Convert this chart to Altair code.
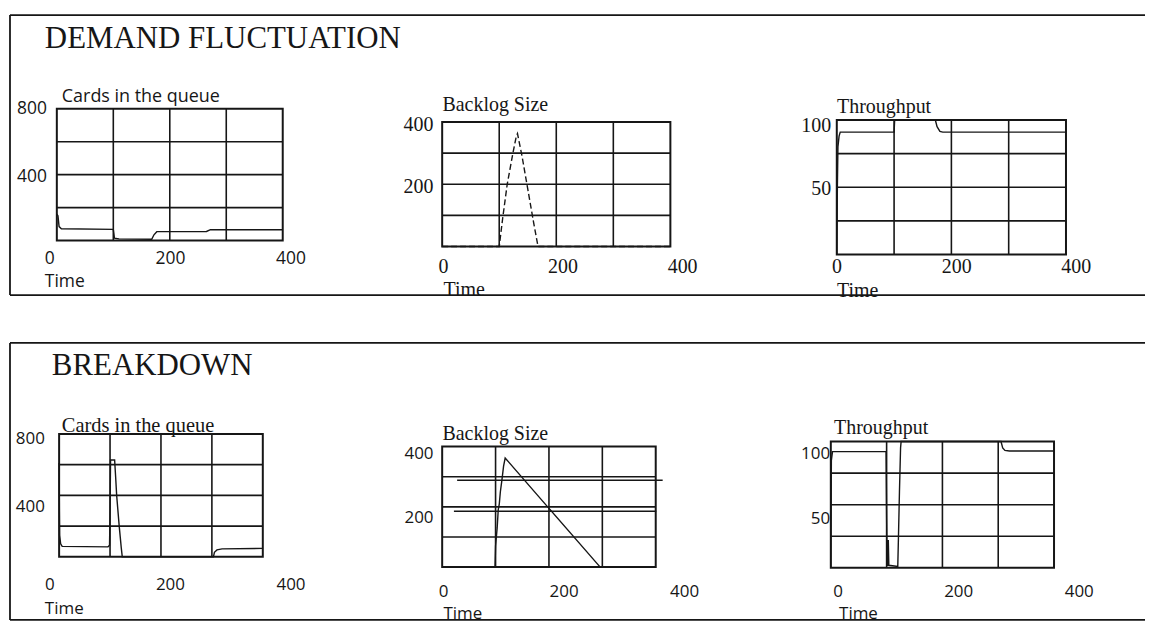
import altair as alt
import pandas as pd

# ---------------- data ----------------
TIME_TICKS = [0, 200, 400]
TIME_GRID = [100, 200, 300]

CARDS_YTICKS = [800, 400]
CARDS_GRID = [200, 400, 600]
BACKLOG_YTICKS = [400, 200]
BACKLOG_GRID = [100, 200, 300]
THR_YTICKS = [100, 50]
THR_GRID = [25, 50, 75]

# DEMAND FLUCTUATION
df_cards_t = [0, 2, 4, 8, 100, 102, 110, 168, 172, 177, 265, 272, 400]
df_cards_v = [160, 150, 85, 72, 68, 15, 10, 8, 35, 54, 55, 66, 66]
df_backlog_t = [0, 100, 106, 114, 124, 130, 132, 140, 150, 160, 168, 400]
df_backlog_v = [0, 0, 90, 200, 300, 355, 363, 290, 185, 80, 0, 0]
df_thr_t = [0, 1, 2, 4, 6, 100, 101, 172, 175, 180, 185, 400]
df_thr_v = [0, 50, 80, 88, 91, 91, 100, 100, 95, 91.5, 91, 91]

# BREAKDOWN
bd_cards_t = [0, 0.5, 1, 3, 6, 96, 99, 100, 101, 109, 111, 113, 118, 122, 124,
              303, 305, 310, 320, 400]
bd_cards_v = [610, 300, 140, 85, 68, 65, 75, 300, 630, 630, 520, 400, 200, 60, 0,
              0, 30, 45, 52, 55]
bd_backlog_t = [0, 99, 100, 103, 105, 107, 109, 112, 115, 118, 200, 296, 400]
bd_backlog_v = [0, 0, 70, 130, 190, 210, 250, 290, 335, 362, 195, 0, 0]
bd_extra_v = [288, 185]
bd_extra_t0 = [28, 22]
bd_extra_t1 = [413, 401]
bd_thr_t = [0, 1, 3, 99, 100, 101, 102, 103, 104, 120, 121, 123, 125, 126,
            305, 308, 312, 320, 400]
bd_thr_v = [0, 85, 92, 92, 40, 2, 2, 22, 2, 1, 20, 60, 95, 100,
            100, 95, 93, 92.5, 92.5]

# ---------------- styling / layout ----------------
INK = "#161616"
SERIF = "Liberation Serif"
SANS = "Open Sans"
X0 = 8  # left of both frames (page px)
ROW1_Y0, ROW1_H = 12, 281
ROW2_Y0, ROW2_H = 341, 278
ROW_W = 1139
FRAME_W = 1.8


def panel(y0, box, ymax, ygrid, yticks, t, v, xlab, xlab_y, ylab_y, ylab_right,
          title, title_pos, time_pos, tick_font, tick_size, title_font, title_size,
          dash=None, extra=None):
    bx0, bx1, by_top, by_bot = box
    xs = alt.Scale(domain=[0, 400], range=[bx0 - X0, bx1 - X0], nice=False, zero=False)
    ys = alt.Scale(domain=[0, ymax], range=[by_bot - y0, by_top - y0], nice=False, zero=False)
    layers = []

    # horizontal grid
    hg = pd.DataFrame({"v": ygrid, "a": [0] * len(ygrid), "b": [400] * len(ygrid)})
    layers.append(alt.Chart(hg).mark_rule(color=INK, strokeWidth=1.6).encode(
        x=alt.X("a:Q", scale=xs, axis=None), x2="b:Q",
        y=alt.Y("v:Q", scale=ys, axis=None)))
    # vertical grid
    vg = pd.DataFrame({"t": TIME_GRID, "a": [0] * 3, "b": [ymax] * 3})
    layers.append(alt.Chart(vg).mark_rule(color=INK, strokeWidth=1.6).encode(
        x=alt.X("t:Q", scale=xs, axis=None),
        y=alt.Y("a:Q", scale=ys, axis=None), y2="b:Q"))
    # extra lines
    if extra is not None:
        ev, et0, et1 = extra
        ed = pd.DataFrame({"v": ev, "a": et0, "b": et1})
        layers.append(alt.Chart(ed).mark_rule(color=INK, strokeWidth=1.5).encode(
            x=alt.X("a:Q", scale=xs, axis=None), x2="b:Q",
            y=alt.Y("v:Q", scale=ys, axis=None)))
    # box
    bd = pd.DataFrame({"a": [0], "b": [400], "c": [0], "d": [ymax]})
    layers.append(alt.Chart(bd).mark_rect(fillOpacity=0, stroke=INK, strokeWidth=2).encode(
        x=alt.X("a:Q", scale=xs, axis=None), x2="b:Q",
        y=alt.Y("c:Q", scale=ys, axis=None), y2="d:Q"))
    # data line
    ld = pd.DataFrame({"t": t, "v": v})
    lk = dict(color=INK, strokeWidth=1.4)
    if dash is not None:
        lk["strokeDash"] = dash
    layers.append(alt.Chart(ld).mark_line(**lk).encode(
        x=alt.X("t:Q", scale=xs, axis=None),
        y=alt.Y("v:Q", scale=ys, axis=None)))

    # x tick labels (their own scale, as printed)
    xl = pd.DataFrame({"v": TIME_TICKS, "lab": [str(k) for k in TIME_TICKS]})
    xls = alt.Scale(domain=[0, 400], range=[xlab[0] - X0, xlab[1] - X0], nice=False, zero=False)
    layers.append(alt.Chart(xl).mark_text(font=tick_font, fontSize=tick_size, color=INK,
                                          align="center", baseline="middle").encode(
        x=alt.X("v:Q", scale=xls, axis=None), y=alt.value(xlab_y - y0), text="lab:N"))
    # y tick labels
    ytop, ymid = ylab_y
    yls = alt.Scale(domain=[0, ymax], range=[2 * ymid - ytop - y0, ytop - y0], nice=False, zero=False)
    yl = pd.DataFrame({"v": yticks, "lab": [str(k) for k in yticks]})
    layers.append(alt.Chart(yl).mark_text(font=tick_font, fontSize=tick_size, color=INK,
                                          align="right", baseline="middle").encode(
        x=alt.value(ylab_right - X0), y=alt.Y("v:Q", scale=yls, axis=None), text="lab:N"))
    one = pd.DataFrame({"k": [0]})
    # panel title
    layers.append(alt.Chart(one).mark_text(font=title_font, fontSize=title_size, color=INK,
                                           align="left", baseline="alphabetic").encode(
        x=alt.value(title_pos[0] - X0), y=alt.value(title_pos[1] - y0), text=alt.value(title)))
    # Time label
    layers.append(alt.Chart(one).mark_text(font=tick_font, fontSize=tick_size, color=INK,
                                           align="left", baseline="middle").encode(
        x=alt.value(time_pos[0] - X0), y=alt.value(time_pos[1] - y0), text=alt.value("Time")))
    return layers


def frame(height):
    # open frame (left, top, bottom); the right side runs off the page
    one = pd.DataFrame({"k": [0]})
    base = alt.Chart(one).mark_rule(color=INK, strokeWidth=FRAME_W)
    return [
        base.encode(x=alt.value(0), x2=alt.value(ROW_W), y=alt.value(0)),
        base.encode(x=alt.value(0), x2=alt.value(ROW_W), y=alt.value(height)),
        base.encode(x=alt.value(0), y=alt.value(0), y2=alt.value(height)),
    ]


def row_title(y0, text, pos):
    one = pd.DataFrame({"k": [0]})
    return alt.Chart(one).mark_text(font=SERIF, fontSize=31, color=INK, align="left",
                                    baseline="alphabetic").encode(
        x=alt.value(pos[0] - X0), y=alt.value(pos[1] - y0), text=alt.value(text))


row1_layers = frame(ROW1_H) + [row_title(ROW1_Y0, "DEMAND FLUCTUATION", (43, 45))]
row1_layers += panel(ROW1_Y0, (55, 281.7, 106, 238.3), 800, CARDS_GRID, CARDS_YTICKS,
                     df_cards_t, df_cards_v, (48, 290), 257, (106, 175), 45,
                     "Cards in the queue", (60, 99), (43, 280), SANS, 17.5, SANS, 18)
row1_layers += panel(ROW1_Y0, (441.7, 670.7, 119.3, 244.3), 400, BACKLOG_GRID, BACKLOG_YTICKS,
                     df_backlog_t, df_backlog_v, (443, 683), 265, (122, 185), 433,
                     "Backlog Size", (442, 108), (443, 288), SERIF, 20, SERIF, 20,
                     dash=[6, 3])
row1_layers += panel(ROW1_Y0, (837.7, 1067.7, 117.3, 252.3), 100, THR_GRID, THR_YTICKS,
                     df_thr_t, df_thr_v, (838, 1078), 265, (123, 187), 832,
                     "Throughput", (838, 110), (838, 289), SERIF, 20, SERIF, 20)

row2_layers = frame(ROW2_H) + [row_title(ROW2_Y0, "BREAKDOWN", (50, 373))]
row2_layers += panel(ROW2_Y0, (57.3, 261.7, 432.3, 555.7), 800, CARDS_GRID, CARDS_YTICKS,
                     bd_cards_t, bd_cards_v, (48, 290), 584, (437, 506), 43,
                     "Cards in the queue", (60, 430), (43, 608), SANS, 17, SERIF, 20.5)
row2_layers += panel(ROW2_Y0, (441.7, 656, 445, 566), 400, BACKLOG_GRID, BACKLOG_YTICKS,
                     bd_backlog_t, bd_backlog_v, (443, 685), 591, (453, 517), 433,
                     "Backlog Size", (442, 438), (443, 613), SANS, 17, SERIF, 20,
                     extra=(bd_extra_v, bd_extra_t0, bd_extra_t1))
row2_layers += panel(ROW2_Y0, (831.7, 1055.7, 440, 566.7), 100, THR_GRID, THR_YTICKS,
                     bd_thr_t, bd_thr_v, (839, 1081), 591, (453, 518), 831,
                     "Throughput", (835, 432), (840, 613), SANS, 17, SERIF, 20)

row1 = alt.layer(*row1_layers).resolve_scale(x="independent", y="independent").properties(
    width=ROW_W, height=ROW1_H)
row2 = alt.layer(*row2_layers).resolve_scale(x="independent", y="independent").properties(
    width=ROW_W, height=ROW2_H)

chart = alt.vconcat(row1, row2, spacing=ROW2_Y0 - (ROW1_Y0 + ROW1_H), bounds="flush").properties(
    padding={"left": 0, "top": ROW1_Y0 - 8, "right": 0, "bottom": 0},
    background="white",
).configure_view(stroke="transparent")

chart.save("out.html", embed_options={"renderer": "svg", "actions": False})
